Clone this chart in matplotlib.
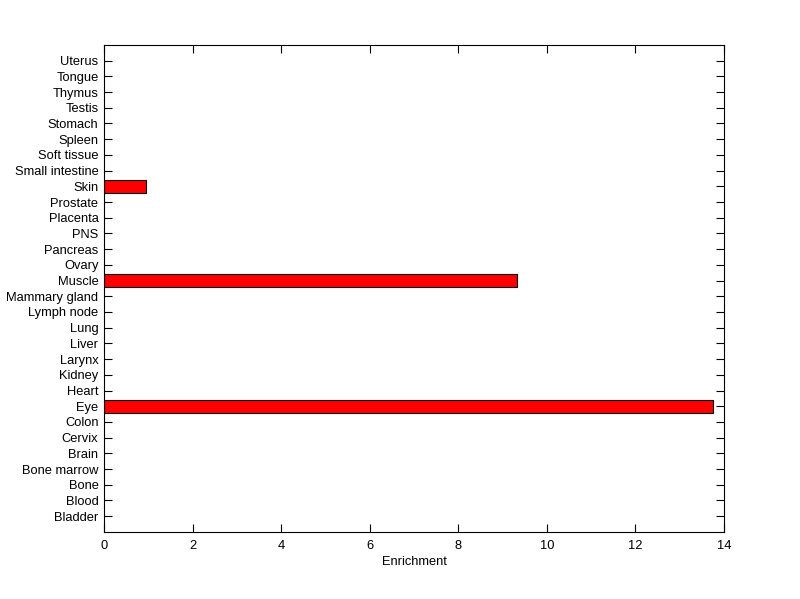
import matplotlib
matplotlib.use('Agg')
import numpy as np
import matplotlib.pyplot as plt

# tissues, bottom to top
tissues = ['Bladder', 'Blood', 'Bone', 'Bone marrow', 'Brain', 'Cervix', 'Colon',
           'Eye', 'Heart', 'Kidney', 'Larynx', 'Liver', 'Lung', 'Lymph node',
           'Mammary gland', 'Muscle', 'Ovary', 'Pancreas', 'PNS', 'Placenta',
           'Prostate', 'Skin', 'Small intestine', 'Soft tissue', 'Spleen',
           'Stomach', 'Testis', 'Thymus', 'Tongue', 'Uterus']
enrichment = [0, 0, 0, 0, 0, 0, 0,
              13.76, 0, 0, 0, 0, 0, 0,
              0, 9.32, 0, 0, 0, 0,
              0, 0.95, 0, 0, 0,
              0, 0, 0, 0, 0]
xticks = [0, 2, 4, 6, 8, 10, 12, 14]

plt.rcParams['font.family'] = ['Liberation Sans', 'DejaVu Sans']
plt.rcParams['font.size'] = 9.3

fig = plt.figure(figsize=(8, 5.99), dpi=100)
ax = fig.add_axes([0.13, 0.112, 0.775, 0.813])

pos = np.arange(1, len(tissues) + 1)
vals = np.array(enrichment)
mask = vals > 0
ax.barh(pos[mask], vals[mask], height=0.8, color='#ff0000', edgecolor='black',
        linewidth=0.8, zorder=3)

ax.set_xlim(0, 14)
ax.set_ylim(0, len(tissues) + 1)
ax.set_xticks(xticks)
ax.set_yticks(pos)
ax.set_yticklabels(tissues)
ax.set_xlabel('Enrichment', labelpad=3)
ax.set_axisbelow(True)

ax.tick_params(direction='in', top=True, right=True, length=6, width=0.8)
ax.tick_params(axis='x', pad=6)
ax.tick_params(axis='y', pad=4)
for s in ax.spines.values():
    s.set_linewidth(0.8)
    s.set_zorder(4)

fig.savefig('out.png', dpi=100)
